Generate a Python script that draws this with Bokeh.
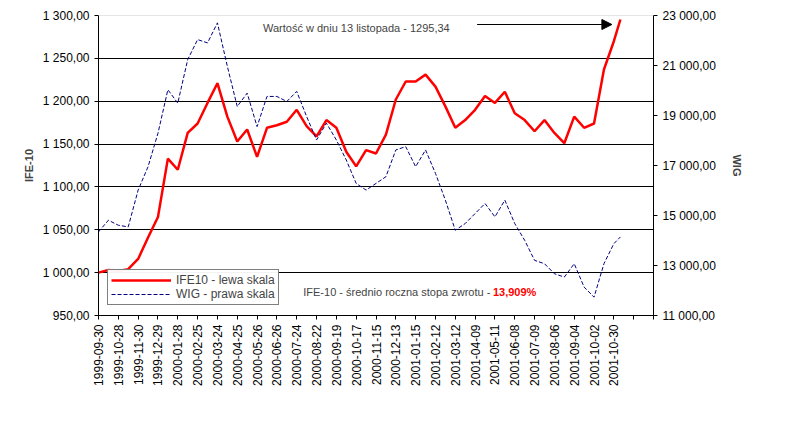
from bokeh.plotting import figure
from bokeh.models import Range1d, LinearAxis, FixedTicker, Legend, LegendItem, Label, Arrow, NormalHead, Span
from bokeh.embed import file_html
from bokeh.resources import INLINE

date_labels = ["1999-09-30","1999-10-28","1999-11-30","1999-12-29","2000-01-28","2000-02-25","2000-03-24",
               "2000-04-25","2000-05-26","2000-06-26","2000-07-24","2000-08-22","2000-09-19","2000-10-17",
               "2000-11-15","2000-12-13","2001-01-15","2001-02-12","2001-03-12","2001-04-09","2001-05-11",
               "2001-06-08","2001-07-09","2001-08-06","2001-09-04","2001-10-02","2001-10-30"]
# positions in units of label intervals
pos = [i * 0.5 for i in range(53)] + [26.33]
ife10 = [1000,1003,1002,1004,1016,1041,1065,1133,1120,1163,1174,1198,1221,1182,1153,1167,1135,1169,1172,1176,
         1190,1171,1159,1178,1169,1141,1124,1143,1139,1161,1202,1223,1223,1231,1217,1194,1169,1178,1190,1206,
         1198,1211,1186,1178,1165,1178,1163,1151,1182,1169,1174,1237,1270,1295.34]
wig = [14343,14811,14611,14544,16016,16952,18290,20030,19495,21234,22037,21903,22706,20966,19360,19896,18557,
       19762,19762,19561,19963,18959,18023,18692,18023,17220,16283,16016,16283,16551,17622,17755,16952,17622,
       16685,15614,14410,14678,15079,15480,14945,15614,14678,14009,13206,13072,12671,12537,13072,12136,11734,
       13072,13875,14142]
left_ticks = [950,1000,1050,1100,1150,1200,1250,1300]
right_ticks = [11000,13000,15000,17000,19000,21000,23000]

def fmt(v):
    return f"{v:,.2f}".replace(",", " ").replace(".", ",")

F = "Liberation Sans"
p = figure(frame_width=555, frame_height=300, output_backend="svg", toolbar_location=None,
           x_range=Range1d(0, 28), y_range=Range1d(950, 1300),
           min_border_left=98, min_border_right=130, min_border_top=15, min_border_bottom=90)
p.outline_line_color = None
p.extra_y_ranges = {"wig": Range1d(11000, 23000)}
p.xgrid.visible = False
p.ygrid.ticker = FixedTicker(ticks=left_ticks[:-1])
p.ygrid.grid_line_color = "black"
p.ygrid.grid_line_alpha = 1
p.add_layout(Span(location=1300, dimension="width", line_color="#999999", line_dash="1 1", line_width=1))

p.yaxis.ticker = FixedTicker(ticks=left_ticks)
p.yaxis.major_label_overrides = {t: fmt(t) for t in left_ticks}
p.yaxis.axis_label = "IFE-10"
ax = LinearAxis(y_range_name="wig", ticker=FixedTicker(ticks=right_ticks),
                major_label_overrides={t: fmt(t) for t in right_ticks}, axis_label="WIG")
p.add_layout(ax, "right")
p.xaxis.ticker = FixedTicker(ticks=list(range(29)))
p.xaxis.major_label_overrides = {i: (date_labels[i] if i < len(date_labels) else "") for i in range(29)}
p.xaxis.major_label_orientation = 1.5708
for a in [p.yaxis[0], ax, p.xaxis[0]]:
    a.minor_tick_line_color = None
    a.axis_line_color = "black"
    a.major_tick_line_color = "black"
    a.major_tick_in = 0
    a.major_tick_out = 4
    a.major_label_text_font = F
    a.major_label_text_font_size = "12px"
    a.major_label_text_color = "black"
    a.axis_label_text_font = F
    a.axis_label_text_font_size = "11px"
    a.axis_label_text_font_style = "bold"
ax.axis_label_standoff = 12

r1 = p.line(pos, ife10, line_color="#ff0000", line_width=2.5)
r2 = p.line(pos, wig, y_range_name="wig", line_color="#000080", line_width=1, line_dash="4 2")

leg = Legend(items=[LegendItem(label="IFE10 - lewa skala", renderers=[r1]),
                    LegendItem(label="WIG - prawa skala", renderers=[r2])],
             location=(9, 10), border_line_color="black", border_line_width=1,
             label_text_font=F, label_text_font_size="12px", spacing=0, padding=3,
             label_height=12, glyph_height=12, glyph_width=60, margin=0)
p.add_layout(leg, "center")

p.add_layout(Label(x=8.3, y=1286, text="Wartość w dniu 13 listopada - 1295,34", text_font=F,
                   text_font_size="11px", text_baseline="middle"))
p.add_layout(Arrow(x_start=19.1, y_start=1289.5, x_end=25.9, y_end=1289.5, line_width=1,
                   end=NormalHead(size=10, fill_color="black")))
p.add_layout(Label(x=10.33, y=978, text="IFE-10 - średnio roczna stopa zwrotu - ", text_font=F,
                   text_font_size="11px", text_baseline="middle"))
p.add_layout(Label(x=19.9, y=978, text="13,909%", text_font=F, text_color="#ff0000",
                   text_font_style="bold", text_font_size="11px", text_baseline="middle"))

open("out.html", "w").write(file_html(p, INLINE))
